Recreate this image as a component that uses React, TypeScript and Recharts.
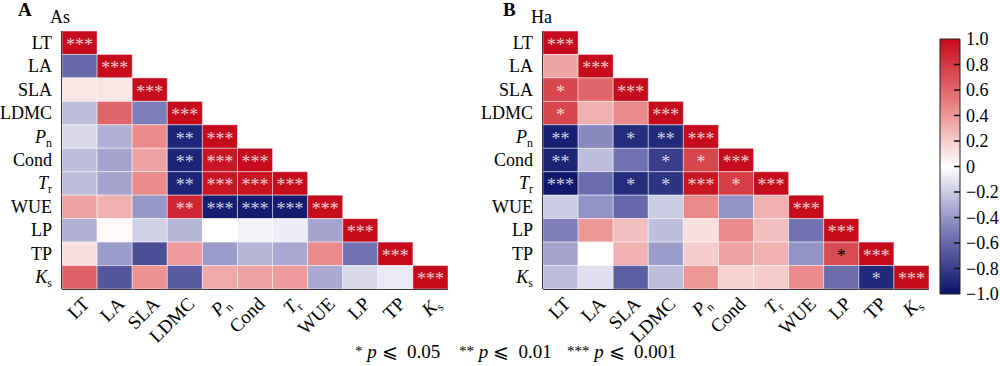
import React from 'react'
import { ScatterChart, Scatter, XAxis, YAxis, BarChart, Bar } from 'recharts'

const TRAITS = ['LT', 'LA', 'SLA', 'LDMC', 'Pn', 'Cond', 'Tr', 'WUE', 'LP', 'TP', 'Ks']
const SUBSCRIPTED: Record<string, [string, string]> = { Pn: ['P', 'n'], Tr: ['T', 'r'], Ks: ['K', 's'] }

// lower triangle, row by row (row i has i+1 values)
const AS_R = [
  [1],
  [-0.6, 1],
  [0.1, 0.1, 1],
  [-0.25, 0.6, -0.5, 1],
  [-0.15, -0.3, 0.45, -0.92, 1],
  [-0.25, -0.35, 0.35, -0.92, 0.96, 1],
  [-0.25, -0.35, 0.45, -0.92, 0.96, 0.97, 1],
  [0.35, 0.3, -0.4, 0.88, -0.95, -0.96, -0.96, 1],
  [-0.3, 0.02, -0.18, -0.28, 0.0, -0.05, -0.07, -0.35, 1],
  [0.12, -0.38, -0.72, 0.38, -0.38, -0.28, -0.33, 0.45, -0.55, 1],
  [0.62, -0.68, 0.42, -0.66, 0.33, 0.35, 0.38, -0.33, -0.15, -0.08, 1],
]
const AS_SIG = [
  ['***'],
  ['', '***'],
  ['', '', '***'],
  ['', '', '', '***'],
  ['', '', '', '**', '***'],
  ['', '', '', '**', '***', '***'],
  ['', '', '', '**', '***', '***', '***'],
  ['', '', '', '**', '***', '***', '***', '***'],
  ['', '', '', '', '', '', '', '', '***'],
  ['', '', '', '', '', '', '', '', '', '***'],
  ['', '', '', '', '', '', '', '', '', '', '***'],
]

const HA_R = [
  [1],
  [0.35, 1],
  [0.75, 0.6, 1],
  [0.75, 0.3, 0.45, 1],
  [-0.95, -0.45, -0.88, -0.9, 1],
  [-0.92, -0.25, -0.55, -0.8, 0.75, 1],
  [-0.98, -0.58, -0.88, -0.85, 0.96, 0.78, 1],
  [-0.2, -0.42, -0.6, -0.2, 0.45, -0.42, 0.3, 1],
  [-0.5, 0.4, 0.25, -0.25, 0.12, 0.45, 0.25, -0.55, 1],
  [-0.35, 0.0, 0.3, -0.38, 0.2, 0.35, 0.3, -0.42, 0.72, 1],
  [-0.25, -0.12, -0.65, -0.25, 0.4, 0.18, 0.2, 0.45, -0.58, -0.9, 1],
]
const HA_SIG = [
  ['***'],
  ['', '***'],
  ['*', '', '***'],
  ['*', '', '', '***'],
  ['**', '', '*', '**', '***'],
  ['**', '', '', '*', '*', '***'],
  ['***', '', '*', '*', '***', '*', '***'],
  ['', '', '', '', '', '', '', '***'],
  ['', '', '', '', '', '', '', '', '***'],
  ['', '', '', '', '', '', '', '', '*', '***'],
  ['', '', '', '', '', '', '', '', '', '*', '***'],
]
// cells whose asterisks are printed in black: [row, col]
const HA_DARK = [[9, 8]]

const BAR_TICKS = [1, 0.8, 0.6, 0.4, 0.2, 0, -0.2, -0.4, -0.6, -0.8, -1]
const NOTE_STARS = ['*', '**', '***']
const NOTE_P = ['0.05', '0.01', '0.001']

const FONT = '"Liberation Serif", "Times New Roman", serif'
const AXIS_IDX = TRAITS.map((_, i) => i)

// panel geometry
const PANEL_W = 470
const PANEL_H = 366
const M_TOP = 31
const M_RIGHT = 22
const Y_W = 62
const X_H = 77
const CELL_W = (PANEL_W - M_RIGHT - Y_W) / 11
const CELL_H = (PANEL_H - M_TOP - X_H) / 11

const STOPS: [number, number[]][] = [
  [-1, [10, 20, 105]],
  [-0.5, [125, 125, 185]],
  [0, [255, 255, 255]],
  [0.5, [232, 125, 125]],
  [1, [198, 12, 28]],
]

function colorFor(v: number) {
  for (let k = 0; k < STOPS.length - 1; k++) {
    const [a, ca] = STOPS[k]
    const [b, cb] = STOPS[k + 1]
    if (v >= a && v <= b) {
      const t = (v - a) / (b - a)
      const c = ca.map((x, i) => Math.round(x + (cb[i] - x) * t))
      return `rgb(${c[0]},${c[1]},${c[2]})`
    }
  }
  return v < 0 ? 'rgb(10,20,105)' : 'rgb(198,12,28)'
}

function toPoints(rows: number[][], sig: string[][], dark: number[][] = []) {
  return rows.flatMap((row, i) =>
    row.map((v, j) => ({
      x: j,
      y: i,
      v,
      sig: sig[i][j],
      dark: dark.some(([r, c]) => r === i && c === j),
    }))
  )
}

function traitLabel(name: string) {
  const sub = SUBSCRIPTED[name]
  if (!sub) return name
  return [
    <tspan key="b" fontStyle="italic">{sub[0]}</tspan>,
    <tspan key="s" fontSize={12} dy={4}>{sub[1]}</tspan>,
  ]
}

const CellShape = (props: any) => {
  const { cx, cy, payload } = props
  return (
    <g>
      <rect
        x={cx - CELL_W / 2}
        y={cy - CELL_H / 2}
        width={CELL_W}
        height={CELL_H}
        fill={colorFor(payload.v)}
        stroke="#ffffff"
        strokeOpacity={0.45}
        strokeWidth={1}
      />
      {payload.sig ? (
        <text
          x={cx}
          y={cy + 8}
          textAnchor="middle"
          fontFamily={FONT}
          fontSize={18}
          fill={payload.dark ? '#000' : '#fff'}
          fillOpacity={payload.dark ? 1 : 0.8}
        >
          {payload.sig}
        </text>
      ) : null}
    </g>
  )
}

const YTick = ({ x, y, payload }: any) => (
  <text x={x} y={y + 6} textAnchor="end" fontFamily={FONT} fontSize={18} fill="#000">
    {traitLabel(TRAITS[payload.value])}
  </text>
)

const XTick = ({ x, y, payload }: any) => {
  const ax = x + 11
  const ay = y + 14
  return (
    <text
      x={ax}
      y={ay}
      textAnchor="end"
      fontFamily={FONT}
      fontSize={19}
      fill="#000"
      transform={`rotate(-45, ${ax}, ${ay})`}
    >
      {traitLabel(TRAITS[payload.value])}
    </text>
  )
}

function Panel({ left, letter, letterLeft, title, data }: { left: number; letter: string; letterLeft: number; title: string; data: any[] }) {
  return (
    <div style={{ position: 'absolute', left, top: 0, width: PANEL_W, height: PANEL_H }}>
      <ScatterChart width={PANEL_W} height={PANEL_H} margin={{ top: M_TOP, right: M_RIGHT, bottom: 0, left: 0 }}>
        <XAxis
          type="number"
          dataKey="x"
          domain={[-0.5, 10.5]}
          ticks={AXIS_IDX}
          interval={0}
          height={X_H}
          tickLine={false}
          tickSize={0}
          axisLine={{ stroke: '#000', strokeWidth: 2 }}
          tick={<XTick />}
        />
        <YAxis
          type="number"
          dataKey="y"
          domain={[-0.5, 10.5]}
          reversed
          ticks={AXIS_IDX}
          interval={0}
          width={Y_W}
          tickLine={false}
          tickSize={0}
          tickMargin={10}
          axisLine={{ stroke: '#000', strokeWidth: 2 }}
          tick={<YTick />}
        />
        <Scatter data={data} shape={<CellShape />} isAnimationActive={false} />
      </ScatterChart>
      <div style={{ position: 'absolute', left: letterLeft, top: 0, fontFamily: FONT, fontWeight: 'bold', fontSize: 19, lineHeight: '19px' }}>{letter}</div>
      <div style={{ position: 'absolute', left: 50, top: 8, fontFamily: FONT, fontSize: 18, lineHeight: '18px' }}>{title}</div>
    </div>
  )
}

const BarTick = ({ x, y, payload }: any) => {
  const v = payload.value as number
  const txt = v === 0 ? '0' : (v < 0 ? '\u2212' : '') + Math.abs(v).toFixed(1)
  const edge = Math.abs(v) === 1
  return (
    <g>
      {!edge && <line x1={x - 12} x2={x - 6} y1={y} y2={y} stroke="#111" strokeWidth={1.5} />}
      <text x={x} y={y + 6} fontFamily={FONT} fontSize={18} fill="#000">{txt}</text>
    </g>
  )
}

const BAR_DATA = [{ name: 'r', range: [-1, 1] }]
const NOTE_LEFT = [355, 459, 567]

export default function App() {
  const gradStops = Array.from({ length: 41 }, (_, k) => {
    const v = 1 - k * 0.05
    return <stop key={k} offset={`${(k / 40) * 100}%`} stopColor={colorFor(v)} />
  })
  return (
    <div style={{ position: 'absolute', left: 0, top: 0, width: 1000, height: 366, background: '#fff', fontFamily: FONT, overflow: 'hidden' }}>
      <svg width={0} height={0} style={{ position: 'absolute' }}>
        <defs>
          <linearGradient id="cbGrad" x1="0" y1="0" x2="0" y2="1">
            {gradStops}
          </linearGradient>
        </defs>
      </svg>
      <Panel left={0} letter="A" letterLeft={18} title="As" data={toPoints(AS_R, AS_SIG)} />
      <Panel left={481} letter="B" letterLeft={22} title="Ha" data={toPoints(HA_R, HA_SIG, HA_DARK)} />
      <div style={{ position: 'absolute', left: 930, top: 0 }}>
        <BarChart width={70} height={366} data={BAR_DATA} barCategoryGap={0} margin={{ top: 39, right: 0, bottom: 72, left: 10 }}>
          <XAxis dataKey="name" hide />
          <YAxis
            type="number"
            orientation="right"
            domain={[-1, 1]}
            ticks={BAR_TICKS}
            interval={0}
            width={40}
            axisLine={false}
            tickLine={false}
            tickSize={0}
            tickMargin={6}
            tick={<BarTick />}
          />
          <Bar dataKey="range" fill="url(#cbGrad)" stroke="#222" strokeWidth={1} isAnimationActive={false} />
        </BarChart>
      </div>
      {NOTE_STARS.map((s, k) => (
        <div
          key={s}
          style={{ position: 'absolute', left: NOTE_LEFT[k], top: 342, fontFamily: FONT, fontSize: 19, lineHeight: '20px', whiteSpace: 'pre' }}
        >
          <span style={{ fontSize: 15, position: 'relative', top: -2 }}>{s}</span> <i>p</i> {'\u2A7D'}  {NOTE_P[k]}
        </div>
      ))}
    </div>
  )
}
